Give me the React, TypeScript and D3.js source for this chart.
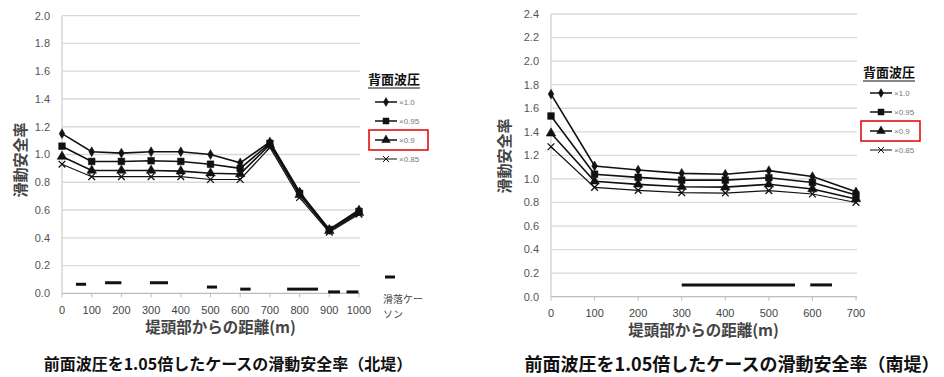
import React, { useEffect, useRef } from 'react'
import * as d3 from 'd3'

// 北堤
const northDist = [0, 100, 200, 300, 400, 500, 600, 700, 800, 900, 1000]
const north100 = [1.15, 1.02, 1.01, 1.02, 1.02, 1.0, 0.94, 1.09, 0.73, 0.46, 0.6]
const north095 = [1.06, 0.95, 0.95, 0.955, 0.95, 0.93, 0.9, 1.08, 0.72, 0.46, 0.59]
const north090 = [0.985, 0.885, 0.885, 0.885, 0.88, 0.865, 0.86, 1.07, 0.71, 0.45, 0.58]
const north085 = [0.93, 0.84, 0.84, 0.84, 0.84, 0.82, 0.82, 1.05, 0.69, 0.44, 0.57]
// 滑落ケーソン (start, end, value)
const northSlideFrom = [47, 145, 296, 488, 600, 758, 896, 958]
const northSlideTo = [81, 200, 357, 522, 635, 862, 936, 998]
const northSlideVal = [0.065, 0.076, 0.076, 0.045, 0.03, 0.03, 0.01, 0.01]
const northTicks = [0, 0.2, 0.4, 0.6, 0.8, 1.0, 1.2, 1.4, 1.6, 1.8, 2.0]

// 南堤
const southDist = [0, 100, 200, 300, 400, 500, 600, 700]
const south100 = [1.72, 1.11, 1.075, 1.047, 1.04, 1.07, 1.02, 0.89]
const south095 = [1.534, 1.04, 1.013, 0.99, 0.99, 1.01, 0.97, 0.863]
const south090 = [1.387, 0.98, 0.954, 0.934, 0.93, 0.954, 0.914, 0.83]
const south085 = [1.273, 0.928, 0.903, 0.883, 0.88, 0.9, 0.872, 0.8]
const southSlideFrom = [300, 595]
const southSlideTo = [560, 645]
const southSlideVal = [0.1, 0.1]
const southTicks = [0, 0.2, 0.4, 0.6, 0.8, 1.0, 1.2, 1.4, 1.6, 1.8, 2.0, 2.2, 2.4]

const seriesNames = ['×1.0', '×0.95', '×0.9', '×0.85']

const JP = '"Noto Sans CJK JP", sans-serif'
const NUM = '"Liberation Sans", Arial, sans-serif'

const symbolX = {
  draw(ctx: any, size: number) {
    const r = Math.sqrt(size) / 2
    ctx.moveTo(-r, -r)
    ctx.lineTo(r, r)
    ctx.moveTo(r, -r)
    ctx.lineTo(-r, r)
  },
}

const markers: any[] = [
  { type: d3.symbolDiamond, size: 28, fill: true },
  { type: d3.symbolSquare, size: 45, fill: true },
  { type: d3.symbolTriangle, size: 40, fill: true },
  { type: symbolX, size: 45, fill: false },
]

function drawChart(svg: any, cfg: any) {
  const x = d3.scaleLinear().domain([0, cfg.xMax]).range([cfg.left, cfg.right])
  const y = d3.scaleLinear().domain([0, cfg.yMax]).range([cfg.bottom, cfg.top])
  const g = svg.append('g')

  // grid
  g.selectAll('line.grid')
    .data(cfg.yTicks)
    .enter()
    .append('line')
    .attr('x1', cfg.left)
    .attr('x2', cfg.right + 1)
    .attr('y1', (d: number) => y(d))
    .attr('y2', (d: number) => y(d))
    .attr('stroke', (d: number) => (d === 0 ? '#bdbdbd' : '#d9d9d9'))
    .attr('stroke-width', 1.3)

  // y axis line
  g.append('line')
    .attr('x1', cfg.left)
    .attr('x2', cfg.left)
    .attr('y1', cfg.top)
    .attr('y2', cfg.bottom)
    .attr('stroke', '#d0d0d0')
    .attr('stroke-width', 1.3)

  // x ticks
  g.selectAll('line.xt')
    .data(cfg.dist)
    .enter()
    .append('line')
    .attr('x1', (d: number) => x(d))
    .attr('x2', (d: number) => x(d))
    .attr('y1', cfg.bottom)
    .attr('y2', cfg.bottom + 4)
    .attr('stroke', '#bdbdbd')

  // y tick labels
  g.selectAll('text.yl')
    .data(cfg.yTicks)
    .enter()
    .append('text')
    .attr('x', cfg.left - 12)
    .attr('y', (d: number) => y(d))
    .attr('dy', '0.35em')
    .attr('text-anchor', 'end')
    .style('font-family', NUM)
    .style('font-size', '11px')
    .attr('fill', '#555')
    .text((d: number) => d.toFixed(1))

  // x tick labels
  g.selectAll('text.xl')
    .data(cfg.dist)
    .enter()
    .append('text')
    .attr('x', (d: number) => x(d))
    .attr('y', cfg.bottom + cfg.xLabOff)
    .attr('text-anchor', 'middle')
    .style('font-family', NUM)
    .style('font-size', '11px')
    .attr('fill', '#444')
    .text((d: number) => String(d))

  // axis titles
  g.append('text')
    .attr('x', (cfg.left + cfg.right) / 2 + cfg.xTitleShift)
    .attr('y', cfg.bottom + cfg.xTitleOff)
    .attr('text-anchor', 'middle')
    .style('font-family', JP)
    .style('font-size', '15.5px')
    .style('font-weight', 'bold')
    .attr('fill', '#444')
    .text('堤頭部からの距離(m)')

  g.append('text')
    .attr('transform', `translate(${cfg.yTitleX},${cfg.yTitleY}) rotate(-90)`)
    .attr('text-anchor', 'middle')
    .attr('dy', '0.35em')
    .style('font-family', JP)
    .style('font-size', '15px')
    .style('font-weight', 'bold')
    .attr('fill', '#444')
    .text('滑動安全率')

  // sliding caisson dashes
  g.selectAll('line.slide')
    .data(cfg.slideVal.map((v: number, i: number) => ({ a: cfg.slideFrom[i], b: cfg.slideTo[i], v })))
    .enter()
    .append('line')
    .attr('x1', (d: any) => x(d.a))
    .attr('x2', (d: any) => x(d.b))
    .attr('y1', (d: any) => y(d.v))
    .attr('y2', (d: any) => y(d.v))
    .attr('stroke', '#111')
    .attr('stroke-width', 3)

  // series
  const line = d3
    .line<number>()
    .x((_d, i) => x(cfg.dist[i]))
    .y((d) => y(d))
  cfg.series.forEach((vals: number[], si: number) => {
    g.append('path')
      .attr('d', line(vals))
      .attr('fill', 'none')
      .attr('stroke', '#111')
      .attr('stroke-width', si === 3 ? 1.2 : 1.6)
    const m = markers[si]
    const sym = d3.symbol().type(m.type).size(m.size)
    g.selectAll(null)
      .data(vals)
      .enter()
      .append('path')
      .attr('d', sym as any)
      .attr('transform', (d: number, i: number) => `translate(${x(cfg.dist[i])},${y(d)})`)
      .attr('fill', m.fill ? '#111' : 'none')
      .attr('stroke', '#111')
      .attr('stroke-width', m.fill ? 0.5 : 1.3)
  })

  // legend
  const lg = g.append('g').attr('transform', `translate(${cfg.legX},${cfg.legY})`)
  lg.append('text')
    .attr('x', 0)
    .attr('y', 0)
    .style('font-family', JP)
    .style('font-size', '13px')
    .style('font-weight', 'bold')
    .attr('fill', '#111')
    .text('背面波圧')
  lg.append('line')
    .attr('x1', 0)
    .attr('x2', 52)
    .attr('y1', 4)
    .attr('y2', 4)
    .attr('stroke', '#111')
    .attr('stroke-width', 1)
  seriesNames.forEach((name, si) => {
    const yy = cfg.legY0 + si * cfg.legStep
    lg.append('line')
      .attr('x1', 7)
      .attr('x2', 29)
      .attr('y1', yy)
      .attr('y2', yy)
      .attr('stroke', '#111')
      .attr('stroke-width', si === 3 ? 1 : 1.5)
    const m = markers[si]
    lg.append('path')
      .attr('d', d3.symbol().type(m.type).size(m.size * 0.8)() as string)
      .attr('transform', `translate(18,${yy})`)
      .attr('fill', m.fill ? '#111' : 'none')
      .attr('stroke', '#111')
      .attr('stroke-width', m.fill ? 0.5 : 1)
    lg.append('text')
      .attr('x', 31)
      .attr('y', yy)
      .attr('dy', '0.35em')
      .style('font-family', NUM)
      .style('font-size', '8px')
      .attr('fill', '#777')
      .text(name)
  })
  lg.append('rect')
    .attr('x', cfg.boxX)
    .attr('y', cfg.legY0 + 2 * cfg.legStep - 10)
    .attr('width', cfg.boxW)
    .attr('height', 20)
    .attr('fill', 'none')
    .attr('stroke', '#e00000')
    .attr('stroke-width', 1.5)

  // caption
  svg
    .append('text')
    .attr('x', cfg.capX)
    .attr('y', cfg.capY)
    .attr('text-anchor', 'middle')
    .style('font-family', JP)
    .style('font-size', `${cfg.capSize}px`)
    .style('font-weight', 'bold')
    .attr('fill', '#111')
    .text(cfg.caption)

  return g
}

const App = () => {
  const svgRef = useRef<SVGSVGElement>(null)

  useEffect(() => {
    const svg = d3.select(svgRef.current)
    svg.selectAll('*').remove()
    svg.append('rect').attr('width', 944).attr('height', 377).attr('fill', '#fff')

    const gN = drawChart(svg, {
      xMax: 1000,
      yMax: 2.0,
      left: 62,
      right: 359,
      top: 15.7,
      bottom: 293.3,
      dist: northDist,
      series: [north100, north095, north090, north085],
      yTicks: northTicks,
      slideFrom: northSlideFrom,
      slideTo: northSlideTo,
      slideVal: northSlideVal,
      xLabOff: 21,
      xTitleOff: 40,
      xTitleShift: 10,
      yTitleX: 21,
      yTitleY: 160,
      legX: 368,
      legY: 84,
      legY0: 18,
      legStep: 19,
      boxX: 1,
      boxW: 59,
      capX: 228,
      capY: 370,
      capSize: 16,
      caption: '前面波圧を1.05倍したケースの滑動安全率（北堤）',
    })

    // 滑落ケーソン legend entry
    gN.append('line')
      .attr('x1', 385)
      .attr('x2', 395)
      .attr('y1', 277)
      .attr('y2', 277)
      .attr('stroke', '#111')
      .attr('stroke-width', 3)
    gN.append('text')
      .attr('x', 383)
      .attr('y', 303)
      .style('font-family', JP)
      .style('font-size', '10px')
      .attr('fill', '#444')
      .text('滑落ケー')
    gN.append('text')
      .attr('x', 383)
      .attr('y', 318)
      .style('font-family', JP)
      .style('font-size', '10px')
      .attr('fill', '#444')
      .text('ソン')

    drawChart(svg, {
      xMax: 700,
      yMax: 2.4,
      left: 551,
      right: 856,
      top: 14,
      bottom: 296.7,
      dist: southDist,
      series: [south100, south095, south090, south085],
      yTicks: southTicks,
      slideFrom: southSlideFrom,
      slideTo: southSlideTo,
      slideVal: southSlideVal,
      xLabOff: 20,
      xTitleOff: 39,
      xTitleShift: 0,
      yTitleX: 505,
      yTitleY: 156,
      legX: 863,
      legY: 77,
      legY0: 16,
      legStep: 19,
      boxX: -2,
      boxW: 59,
      capX: 732,
      capY: 371,
      capSize: 18,
      caption: '前面波圧を1.05倍したケースの滑動安全率（南堤）',
    })
  }, [])

  return (
    <svg
      ref={svgRef}
      width={944}
      height={377}
      style={{ position: 'absolute', left: 0, top: 0, display: 'block' }}
    />
  )
}

export default App
